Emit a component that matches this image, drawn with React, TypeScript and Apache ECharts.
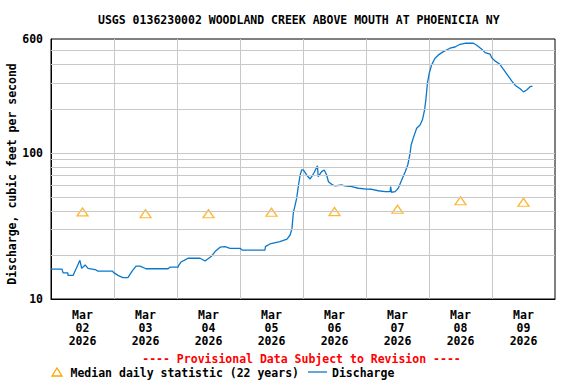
import React, { useEffect, useRef } from "react";
import * as echarts from "echarts";

const TITLE = "USGS 0136230002 WOODLAND CREEK ABOVE MOUTH AT PHOENICIA NY";
const Y_NAME = "Discharge, cubic feet per second";
const PROVISIONAL = "---- Provisional Data Subject to Revision ----";
const LEGEND_MEDIAN = "Median daily statistic (22 years)";
const LEGEND_DISCHARGE = "Discharge";

// x axis: hours since 2026-03-02 00:00
const monthLabel = "Mar";
const yearLabel = "2026";
const dayLabels = ["02", "03", "04", "05", "06", "07", "08", "09"];
const labelHours = [12, 36, 60, 84, 108, 132, 156, 180];

// y axis (log)
const yTickLabels = [10, 100, 600];
const gridValues = [20, 30, 40, 50, 60, 70, 80, 90, 100, 200, 300, 400, 500];

// Discharge (cfs)
const dischargeHours = [
  0, 4.2, 4.6, 6.4, 6.5, 8.4, 9.7, 11.0, 11.7, 13.0,
  14.1, 16.8, 17.9, 23.4, 23.8, 25.5, 27.4, 29.3, 30.9, 32.4,
  33.9, 36.2, 44.6, 45.3, 48.4, 48.6, 49.5, 51.1, 52.2, 56.8,
  58.7, 61.0, 62.5, 64.4, 66.3, 68.2, 72.0, 72.8, 81.5, 81.7,
  83.4, 87.2, 89.9, 91.1, 91.8, 92.3, 93.6, 94.2, 94.9, 95.5,
  96.1, 97.4, 98.7, 99.3, 100.3, 101.5, 101.8, 103.1, 104.1, 105.0,
  105.7, 106.9, 108.2, 110.8, 112.0, 114.6, 117.1, 120.3, 122.2, 124.7,
  127.3, 129.2, 129.4, 129.7, 131.1, 132.3, 133.6, 134.9, 135.9, 136.8,
  137.2, 138.0, 139.3, 140.6, 141.5, 142.3, 142.8, 143.4, 144.1, 145.0,
  146.3, 147.6, 149.5, 152.0, 153.9, 155.8, 157.7, 160.9, 162.2, 164.1,
  165.4, 167.3, 167.9, 169.1, 171.0, 172.3, 174.2, 175.5, 176.8, 178.7,
  180.0, 181.2, 182.5, 183.4,
];
const dischargeCfs = [
  16.0, 16.0, 15.1, 15.1, 14.5, 14.5, 16.3, 18.4, 16.2, 17.1,
  16.2, 15.9, 15.5, 15.5, 15.2, 14.5, 14.0, 14.0, 15.5, 16.8,
  16.8, 16.1, 16.1, 16.5, 16.5, 16.9, 17.9, 18.5, 19.0, 19.0,
  18.2, 19.5, 21.1, 22.6, 22.8, 22.2, 22.2, 21.6, 21.6, 22.8,
  23.8, 24.7, 25.7, 27.4, 30.4, 38.6, 48.9, 58.7, 70.5, 76.3,
  76.3, 70.5, 66.2, 68.6, 73.6, 81.6, 68.6, 74.3, 76.3, 70.5,
  63.4, 60.9, 59.3, 60.2, 59.3, 58.7, 57.2, 56.5, 56.3, 55.0,
  54.2, 54.2, 58.7, 53.7, 54.2, 57.2, 65.2, 73.9, 82.5, 99.2,
  113, 126, 147, 155, 168, 196, 230, 299, 350, 399,
  443, 467, 492, 519, 529, 552, 561, 561, 544, 510,
  484, 472, 447, 425, 403, 373, 335, 310, 290, 274,
  261, 269, 283, 286,
];

// Median daily statistic (22 years), at noon of each day
const medianHours = [12, 36, 60, 84, 108, 132, 156, 180];
const medianCfs = [39.4, 38.3, 38.3, 39.2, 39.6, 41.1, 47.0, 45.9];

const FONT_FAMILY = '"DejaVu Sans Mono", "Liberation Mono", monospace';
const FONT_SIZE = 11.5;
const BLUE = "#0a78cc";
const ORANGE = "#FFA500";
const GRID_GRAY = "#c8c8c8";

export default function App() {
  const ref = useRef<HTMLDivElement>(null);

  useEffect(() => {
    if (!ref.current) return;
    const chart = echarts.init(ref.current, null, { renderer: "svg" });
    const font = `bold ${FONT_SIZE}px ${FONT_FAMILY}`;
    const textBase = {
      fontFamily: FONT_FAMILY,
      fontSize: FONT_SIZE,
      fontWeight: "bold" as const,
      color: "#000",
    };

    chart.setOption({
      animation: false,
      backgroundColor: "#fff",
      title: {
        text: TITLE,
        left: 98,
        top: 14,
        padding: 0,
        textStyle: { ...textBase },
      },
      grid: {
        left: 51,
        top: 39,
        width: 504,
        height: 260,
        show: true,
        borderColor: "#000",
        borderWidth: 1,
        backgroundColor: "transparent",
        containLabel: false,
      },
      xAxis: {
        type: "value",
        min: 0,
        max: 192,
        interval: 24,
        axisLine: { show: true, lineStyle: { color: "#000", width: 1 } },
        axisTick: { show: false },
        splitLine: {
          show: true,
          showMinLine: false,
          showMaxLine: false,
          lineStyle: { color: GRID_GRAY, width: 1 },
        },
        axisLabel: {
          ...textBase,
          customValues: labelHours,
          margin: 9,
          lineHeight: 13,
          formatter: (v: number) => {
            const i = Math.round((v - 12) / 24);
            return `${monthLabel}\n${dayLabels[i] ?? ""}\n${yearLabel}`;
          },
        },
      },
      yAxis: {
        type: "log",
        logBase: 10,
        min: 10,
        max: 600,
        axisLine: { show: true, lineStyle: { color: "#000", width: 1 } },
        axisTick: { show: false },
        splitLine: { show: false },
        minorTick: { show: false },
        minorSplitLine: { show: false },
        axisLabel: {
          ...textBase,
          customValues: yTickLabels,
          margin: 8,
          formatter: (v: number) => String(Math.round(v)),
        },
      },
      series: [
        {
          name: "grid",
          type: "line",
          data: [[0, 10]],
          showSymbol: false,
          symbol: "none",
          silent: true,
          lineStyle: { opacity: 0 },
          z: 1,
          markLine: {
            silent: true,
            symbol: ["none", "none"],
            label: { show: false },
            lineStyle: { color: GRID_GRAY, type: "solid", width: 1 },
            emphasis: { disabled: true },
            data: gridValues.map((v) => ({ yAxis: v })),
          },
        },
        {
          name: LEGEND_MEDIAN,
          type: "scatter",
          symbol: "triangle",
          symbolSize: [11, 8],
          data: medianHours.map((h, i) => [h, medianCfs[i]]),
          itemStyle: {
            color: "rgba(0,0,0,0)",
            borderColor: ORANGE,
            borderWidth: 1.3,
          },
          silent: true,
          z: 3,
        },
        {
          name: LEGEND_DISCHARGE,
          type: "line",
          data: dischargeHours.map((h, i) => [h, dischargeCfs[i]]),
          showSymbol: false,
          symbol: "none",
          lineStyle: { color: BLUE, width: 1.3 },
          silent: true,
          z: 4,
        },
      ],
      graphic: [
        {
          type: "text",
          x: 12,
          y: 174,
          rotation: Math.PI / 2,
          style: {
            text: Y_NAME,
            font,
            fill: "#000",
            align: "center",
            verticalAlign: "middle",
          },
        },
        {
          type: "text",
          x: 301.5,
          y: 359,
          style: {
            text: PROVISIONAL,
            font,
            fill: "#ff0000",
            align: "center",
            verticalAlign: "middle",
          },
        },
        {
          type: "polygon",
          shape: { points: [[52, 376], [57, 368], [62, 376]] },
          style: { fill: "none", stroke: ORANGE, lineWidth: 1.3 },
        },
        {
          type: "text",
          x: 70.5,
          y: 372.5,
          style: {
            text: LEGEND_MEDIAN,
            font,
            fill: "#000",
            align: "left",
            verticalAlign: "middle",
          },
        },
        {
          type: "line",
          shape: { x1: 308, y1: 372, x2: 327, y2: 372 },
          style: { stroke: BLUE, lineWidth: 1.3 },
        },
        {
          type: "text",
          x: 332,
          y: 372.5,
          style: {
            text: LEGEND_DISCHARGE,
            font,
            fill: "#000",
            align: "left",
            verticalAlign: "middle",
          },
        },
      ],
    });

    return () => chart.dispose();
  }, []);

  return (
    <div
      ref={ref}
      style={{ position: "fixed", left: 0, top: 0, width: 576, height: 384 }}
    />
  );
}
